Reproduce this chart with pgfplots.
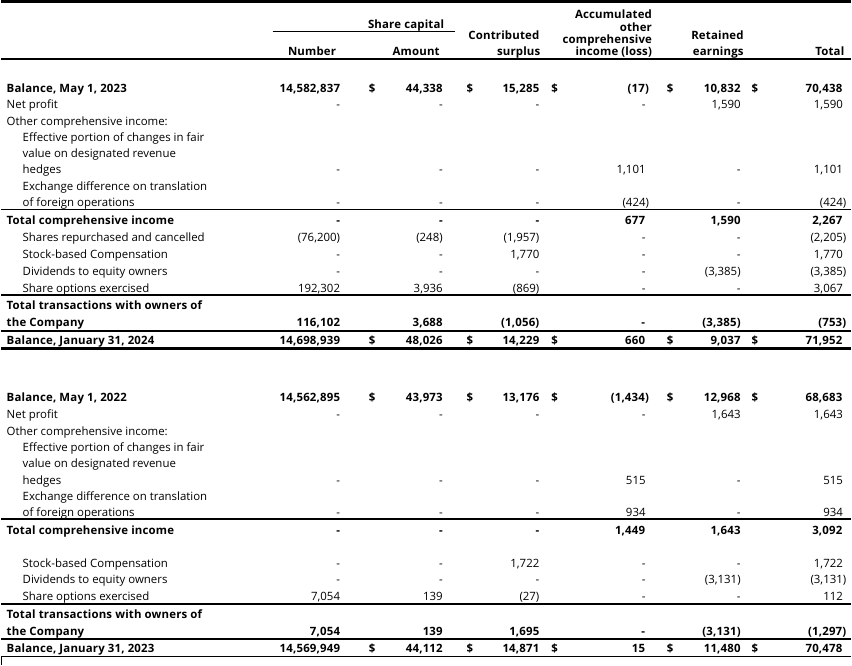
\documentclass[border=0pt]{standalone}
\usepackage{pgfplots}
\pgfplotsset{compat=1.18}
\usepackage{pgfplotstable}
\usepackage{fontspec}
\setmainfont{Open Sans}[BoldFeatures={LetterSpace=1.5}]

% trailing space that a closing parenthesis would take
\protected\def\p{\hphantom{)}}
\newcommand\tf{\fontsize{8.6pt}{10pt}\selectfont}

% plain rows: y (px from top), then the six columns
\pgfplotstableread{
y num amt cs aoci re tot
104 - - - {-\p} 1,590 {1,590\p}
169 - - - {1,101\p} - {1,101\p}
202 - - - (424) - (424)
237 (76,200) (248) (1,957) {-\p} - (2,205)
254 - - 1,770 {-\p} - {1,770\p}
271 - - - {-\p} (3,385) (3,385)
288 192,302 3,936 (869) {-\p} - {3,067\p}
415 - - - {-\p} 1,643 {1,643\p}
481 - - - {515\p} - {515\p}
513 - - - {934\p} - {934\p}
564 - - 1,722 {-\p} - {1,722\p}
581 - - - {-\p} (3,131) (3,131)
598 7,054 139 (27) {-\p} - {112\p}
}\regrows

% bold rows
\pgfplotstableread{
y num amt cs aoci re tot
88 14,582,837 44,338 15,285 (17) 10,832 {70,438\p}
220 - - - {677\p} 1,590 {2,267\p}
323 116,102 3,688 (1,056) {-\p} (3,385) (753)
341 14,698,939 48,026 14,229 {660\p} 9,037 {71,952\p}
398 14,562,895 43,973 13,176 (1,434) 12,968 {68,683\p}
531 - - - {1,449\p} 1,643 {3,092\p}
633 7,054 139 1,695 {-\p} (3,131) (1,297)
650 14,569,949 44,112 14,871 {15\p} 11,480 {70,478\p}
}\boldrows

% rows with dollar signs
\pgfplotstableread{
y
88
341
398
650
}\dollarrows

\pgfplotsset{
  cell/.style={draw=none, mark=none, forget plot, nodes near coords,
    point meta=explicit symbolic,
    every node near coord/.append style={anchor=mid east, inner sep=0pt, yshift=-1.1pt, text=black, font=#1}},
  rule/.style={black, line width=#1, forget plot, mark=none},
}

\newcommand\numcols[2]{%
  \addplot[cell={#2}] table[x expr=340, y=y, meta=num] {#1};
  \addplot[cell={#2}] table[x expr=443, y=y, meta=amt] {#1};
  \addplot[cell={#2}] table[x expr=540, y=y, meta=cs] {#1};
  \addplot[cell={#2}] table[x expr=650, y=y, meta=aoci] {#1};
  \addplot[cell={#2}] table[x expr=742, y=y, meta=re] {#1};
  \addplot[cell={#2}] table[x expr=848, y=y, meta=tot] {#1};
}

\begin{document}
\begin{tikzpicture}
\begin{axis}[
    scale only axis,
    width=639pt, height=500.25pt,
    xmin=0, xmax=852, ymin=0, ymax=667,
    y dir=reverse,
    hide axis,
    clip=false,
]
\addplot[draw=none, forget plot] coordinates {(0,0) (852,667)};

% rules
\addplot[rule=2.25pt] coordinates {(0,2) (852,2)};
\addplot[rule=0.75pt] coordinates {(272,32) (455,32)};
\addplot[rule=1.9pt] coordinates {(0,59) (852,59)};
\addplot[rule=1.1pt] coordinates {(0,210) (852,210)};
\addplot[rule=1.5pt] coordinates {(0,296) (852,296)};
\addplot[rule=1.5pt] coordinates {(0,332) (852,332)};
\addplot[rule=2.25pt] coordinates {(0,350) (852,350)};
\addplot[rule=1.1pt] coordinates {(0,521) (852,521)};
\addplot[rule=1.5pt] coordinates {(0,606) (852,606)};
\addplot[rule=1.5pt] coordinates {(0,641) (852,641)};
\addplot[rule=1.1pt] coordinates {(0,659) (852,659)};
\addplot[rule=0.75pt] coordinates {(0.5,659) (0.5,667)};

% column headers
\begin{scope}[every node/.style={inner sep=0pt, yshift=-1.1pt, font=\tf\bfseries}]
\node[anchor=mid] at (axis cs:406,24) {Share capital};
\node[anchor=mid east] at (axis cs:336,51) {Number};
\node[anchor=mid east] at (axis cs:440,51) {Amount};
\node[anchor=mid east] at (axis cs:540,35) {Contributed};
\node[anchor=mid east] at (axis cs:541,51) {surplus};
\node[anchor=mid east] at (axis cs:653,14) {Accumulated};
\node[anchor=mid east] at (axis cs:653,27) {other};
\node[anchor=mid east] at (axis cs:653,39) {comprehensive};
\node[anchor=mid east] at (axis cs:653,51) {income (loss)};
\node[anchor=mid east] at (axis cs:745,35) {Retained};
\node[anchor=mid east] at (axis cs:745,51) {earnings};
\node[anchor=mid east] at (axis cs:846,51) {Total};
\end{scope}

% row labels
\begin{scope}[every node/.style={inner sep=0pt, anchor=mid west, yshift=-1.1pt, font=\tf}]
\node[font=\tf\bfseries] at (axis cs:5,88) {Balance, May 1, 2023};
\node at (axis cs:5,104) {Net profit};
\node at (axis cs:5,121) {Other comprehensive income:};
\node at (axis cs:21,137) {Effective portion of changes in fair};
\node at (axis cs:21,153) {value on designated revenue};
\node at (axis cs:21,169) {hedges};
\node at (axis cs:21,186) {Exchange difference on translation};
\node at (axis cs:21,202) {of foreign operations};
\node[font=\tf\bfseries] at (axis cs:5,220) {Total comprehensive income};
\node at (axis cs:21,237) {Shares repurchased and cancelled};
\node at (axis cs:21,254) {Stock-based Compensation};
\node at (axis cs:21,271) {Dividends to equity owners};
\node at (axis cs:21,288) {Share options exercised};
\node[font=\tf\bfseries] at (axis cs:5,306) {Total transactions with owners of};
\node[font=\tf\bfseries] at (axis cs:5,323) {the Company};
\node[font=\tf\bfseries] at (axis cs:5,341) {Balance, January 31, 2024};
\node[font=\tf\bfseries] at (axis cs:5,398) {Balance, May 1, 2022};
\node at (axis cs:5,415) {Net profit};
\node at (axis cs:5,432) {Other comprehensive income:};
\node at (axis cs:21,448) {Effective portion of changes in fair};
\node at (axis cs:21,464) {value on designated revenue};
\node at (axis cs:21,481) {hedges};
\node at (axis cs:21,497) {Exchange difference on translation};
\node at (axis cs:21,513) {of foreign operations};
\node[font=\tf\bfseries] at (axis cs:5,531) {Total comprehensive income};
\node at (axis cs:21,564) {Stock-based Compensation};
\node at (axis cs:21,581) {Dividends to equity owners};
\node at (axis cs:21,598) {Share options exercised};
\node[font=\tf\bfseries] at (axis cs:5,616) {Total transactions with owners of};
\node[font=\tf\bfseries] at (axis cs:5,633) {the Company};
\node[font=\tf\bfseries] at (axis cs:5,650) {Balance, January 31, 2023};
\end{scope}

% numbers
\numcols{\regrows}{\tf}
\numcols{\boldrows}{\tf\bfseries}

% dollar signs on the balance rows
\pgfplotsinvokeforeach{372,470,555,671,756}{
  \addplot[draw=none, mark=none, forget plot, nodes near coords={\$},
    every node near coord/.append style={anchor=mid, inner sep=0pt, yshift=-1.1pt, text=black, font=\tf\bfseries}]
    table[x expr=#1, y=y] {\dollarrows};
}
\end{axis}
\end{tikzpicture}
\end{document}
